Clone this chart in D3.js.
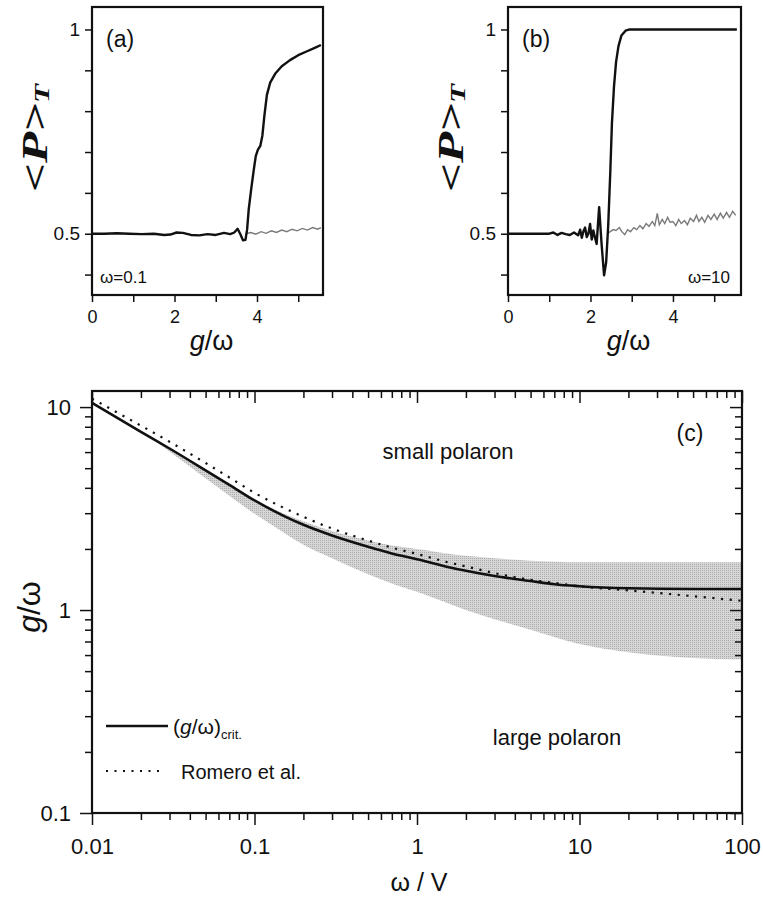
<!DOCTYPE html>
<html>
<head>
<meta charset="utf-8">
<script src="https://cdn.jsdelivr.net/npm/d3@7"></script>
<style>
  body { margin: 0; background: #fff; }
  svg { display: block; }
  text { font-family: "Liberation Sans", Arial, Helvetica, sans-serif; fill: #111; }
</style>
</head>
<body>
<div id="chart"></div>
<script>
// ---------------- data ----------------
// panel (a), omega = 0.1
const aBlackX = [0, 0.3, 0.6, 0.9, 1.2, 1.5, 1.75, 1.9, 2.05, 2.2, 2.4, 2.6, 2.8, 3.0, 3.2, 3.35, 3.45, 3.53, 3.6, 3.66, 3.72, 3.76, 3.8, 3.86, 3.92, 3.97, 4.02, 4.08, 4.13, 4.18, 4.24, 4.32, 4.45, 4.6, 4.8, 5.0, 5.2, 5.4, 5.55];
const aBlackY = [0.5, 0.5, 0.501, 0.5, 0.499, 0.5, 0.497, 0.498, 0.503, 0.502, 0.497, 0.496, 0.499, 0.497, 0.502, 0.499, 0.503, 0.512, 0.498, 0.484, 0.485, 0.51, 0.56, 0.61, 0.655, 0.69, 0.705, 0.715, 0.74, 0.79, 0.84, 0.87, 0.893, 0.91, 0.925, 0.937, 0.946, 0.955, 0.962];
const aGrayX = [3.72, 3.85, 3.97, 4.1, 4.22, 4.35, 4.47, 4.6, 4.72, 4.85, 4.97, 5.1, 5.22, 5.35, 5.47, 5.55];
const aGrayY = [0.5, 0.503, 0.499, 0.505, 0.501, 0.507, 0.503, 0.509, 0.505, 0.511, 0.507, 0.513, 0.509, 0.515, 0.511, 0.515];

// panel (b), omega = 10
const bBlackX = [0, 0.5, 1.0, 1.1, 1.2, 1.3, 1.4, 1.5, 1.6, 1.7, 1.75, 1.79, 1.83, 1.87, 1.91, 1.95, 1.99, 2.03, 2.07, 2.11, 2.15, 2.21, 2.27, 2.33, 2.38, 2.43, 2.48, 2.52, 2.57, 2.62, 2.68, 2.75, 2.85, 2.95, 3.5, 4.5, 5.55];
const bBlackY = [0.5, 0.5, 0.5, 0.503, 0.497, 0.502, 0.499, 0.497, 0.503, 0.496, 0.51, 0.49, 0.506, 0.515, 0.492, 0.5, 0.524, 0.486, 0.508, 0.49, 0.475, 0.565, 0.474, 0.398, 0.43, 0.52, 0.65, 0.77, 0.86, 0.92, 0.96, 0.985, 0.997, 1.0, 1.0, 1.0, 1.0];
const bGrayX = [2.4, 2.48, 2.55, 2.62, 2.7, 2.76, 2.83, 2.9, 2.97, 3.05, 3.12, 3.2, 3.27, 3.35, 3.42, 3.5, 3.56, 3.62, 3.67, 3.74, 3.8, 3.87, 3.93, 4.0, 4.07, 4.14, 4.2, 4.28, 4.35, 4.42, 4.5, 4.57, 4.63, 4.7, 4.77, 4.85, 4.92, 5.0, 5.07, 5.15, 5.22, 5.3, 5.37, 5.45, 5.52];
const bGrayY = [0.5, 0.505, 0.51, 0.508, 0.515, 0.505, 0.498, 0.51, 0.505, 0.515, 0.51, 0.52, 0.512, 0.525, 0.518, 0.53, 0.52, 0.55, 0.522, 0.535, 0.525, 0.54, 0.528, 0.53, 0.52, 0.535, 0.525, 0.532, 0.522, 0.538, 0.53, 0.545, 0.53, 0.54, 0.528, 0.545, 0.535, 0.548, 0.535, 0.55, 0.538, 0.552, 0.54, 0.555, 0.545];

const pTicks = [0.4, 0.5, 0.6, 0.7, 0.8, 0.9, 1];
const pTickLabels = [0.5, 1];
const gTicks = [0, 1, 2, 3, 4, 5];
const gTickLabels = [0, 2, 4];

// panel (c)
const cX = [0.01, 0.02, 0.03, 0.05, 0.07, 0.1, 0.15, 0.2, 0.3, 0.5, 0.7, 1, 1.5, 2, 3, 5, 7, 10, 20, 50, 100];
const cCrit = [10.5, 7.55, 6.25, 4.88, 4.14, 3.47, 2.92, 2.63, 2.33, 2.05, 1.9, 1.78, 1.64, 1.56, 1.47, 1.39, 1.34, 1.31, 1.28, 1.27, 1.27];
const cRomero = [11.0, 8.1, 6.75, 5.3, 4.5, 3.78, 3.2, 2.88, 2.52, 2.2, 2.03, 1.89, 1.73, 1.64, 1.52, 1.41, 1.36, 1.31, 1.25, 1.17, 1.11];
const bandX = [0.025, 0.04, 0.06, 0.1, 0.15, 0.2, 0.3, 0.5, 0.7, 1, 2, 3, 5, 10, 20, 50, 100];
const bandHi = [6.85, 5.5, 4.45, 3.5, 3.0, 2.74, 2.45, 2.2, 2.08, 2.0, 1.85, 1.8, 1.75, 1.72, 1.72, 1.72, 1.72];
const bandLo = [6.7, 5.1, 4.0, 2.98, 2.42, 2.1, 1.8, 1.5, 1.35, 1.23, 1.0, 0.9, 0.8, 0.68, 0.62, 0.58, 0.57];
const cXMajor = [0.01, 0.1, 1, 10, 100];
const cYMajor = [0.1, 1, 10];

const zip = (xs, ys) => xs.map((x, i) => ({ x: x, y: ys[i] }));

// ---------------- svg ----------------
const svg = d3.select("#chart").append("svg")
  .attr("width", 763).attr("height", 900);
svg.append("rect").attr("width", 763).attr("height", 900).attr("fill", "#fff");

const defs = svg.append("defs");
const pat = defs.append("pattern").attr("id", "stipple")
  .attr("width", 2).attr("height", 2).attr("patternUnits", "userSpaceOnUse");
pat.append("rect").attr("width", 2).attr("height", 2).attr("fill", "#d6d6d6");
pat.append("rect").attr("width", 1).attr("height", 1).attr("fill", "#acacac");

function styleAxis(g) {
  g.select(".domain").remove();
  g.selectAll(".tick line").attr("stroke", "#111").attr("stroke-width", 1.5);
  g.selectAll(".tick text").attr("fill", "#111");
}

// ---------------- panels (a) and (b) ----------------
function drawPanel(o) {
  const x = d3.scaleLinear().domain([0, o.xMax]).range([o.left, o.right]);
  const y = d3.scaleLinear().domain([0.35, 1.055]).range([295, 7]);
  const g = svg.append("g");

  const line = d3.line().x(d => x(d.x)).y(d => y(d.y));

  g.append("path").datum(zip(o.grayX, o.grayY))
    .attr("d", line).attr("fill", "none")
    .attr("stroke", "#7a7a7a").attr("stroke-width", 1.4);
  g.append("path").datum(zip(o.blackX, o.blackY))
    .attr("d", line).attr("fill", "none")
    .attr("stroke", "#111").attr("stroke-width", 2.4)
    .attr("stroke-linejoin", "round");

  g.append("g").attr("transform", "translate(0,295)")
    .call(d3.axisBottom(x).tickValues(gTicks).tickSize(7).tickPadding(8)
      .tickFormat(d => gTickLabels.includes(d) ? d : ""))
    .call(styleAxis)
    .selectAll("text").style("font-size", "18px");

  g.append("g").attr("transform", `translate(${o.left},0)`)
    .call(d3.axisLeft(y).tickValues(pTicks).tickSize(7).tickPadding(5)
      .tickFormat(d => pTickLabels.includes(d) ? d : ""))
    .call(styleAxis)
    .selectAll("text").style("font-size", "19px");

  g.append("rect").attr("x", o.left).attr("y", 7)
    .attr("width", o.right - o.left).attr("height", 288)
    .attr("fill", "none").attr("stroke", "#111").attr("stroke-width", 2.2);

  g.append("text").attr("x", o.left + 14).attr("y", 47)
    .style("font-size", "23px").text(o.tag);

  g.append("text").attr("x", o.wX).attr("y", 283)
    .attr("text-anchor", o.wAnchor)
    .style("font-size", "17px").text(o.wLabel);

  // x label
  const xl = g.append("text").attr("x", (o.left + o.right) / 2 + 4).attr("y", 350)
    .attr("text-anchor", "middle").style("font-size", "27px");
  xl.append("tspan").style("font-style", "italic").text("g");
  xl.append("tspan").text("/ω");

  // y label <P>_T
  const yl = g.append("text")
    .attr("transform", `translate(${o.left - 45},138) rotate(-90)`)
    .attr("text-anchor", "middle")
    .attr("textLength", 108).attr("lengthAdjust", "spacingAndGlyphs")
    .style("font-family", "'Liberation Serif', 'DejaVu Serif', serif")
    .style("font-weight", "bold").style("font-style", "italic")
    .style("font-size", "36px");
  yl.append("tspan").text("<");
  yl.append("tspan").text("P");
  yl.append("tspan").text(">");
  yl.append("tspan").attr("dy", 2).style("font-size", "22px").text("T");
}

drawPanel({ left: 92, right: 323, xMax: 5.6, blackX: aBlackX, blackY: aBlackY,
  grayX: aGrayX, grayY: aGrayY, tag: "(a)", wLabel: "ω=0.1", wX: 100, wAnchor: "start" });
drawPanel({ left: 508, right: 741, xMax: 5.65, blackX: bBlackX, blackY: bBlackY,
  grayX: bGrayX, grayY: bGrayY, tag: "(b)", wLabel: "ω=10", wX: 730, wAnchor: "end" });

// ---------------- panel (c) ----------------
const xC = d3.scaleLog().domain([0.01, 100]).range([92, 742]);
const yC = d3.scaleLog().domain([0.1, 12]).range([813, 391]);
const xMinor = xC.ticks().filter(d => !cXMajor.includes(d));
const yMinor = yC.ticks().filter(d => !cYMajor.includes(d) && d <= 10);
const fmt = d => String(d);

const gc = svg.append("g");

const band = d3.area()
  .x(d => xC(d.x)).y0(d => yC(d.lo)).y1(d => yC(d.hi))
  .curve(d3.curveMonotoneX);
gc.append("path")
  .datum(bandX.map((x, i) => ({ x: x, hi: bandHi[i], lo: bandLo[i] })))
  .attr("d", band).attr("fill", "url(#stipple)");

const lineC = d3.line().x(d => xC(d.x)).y(d => yC(d.y)).curve(d3.curveMonotoneX);
gc.append("path").datum(zip(cX, cRomero))
  .attr("d", lineC).attr("fill", "none").attr("stroke", "#111")
  .attr("stroke-width", 2.2).attr("stroke-dasharray", "2.2,6.5");
gc.append("path").datum(zip(cX, cCrit))
  .attr("d", lineC).attr("fill", "none").attr("stroke", "#111")
  .attr("stroke-width", 2.6);

// axes
gc.append("g").attr("transform", "translate(0,813)")
  .call(d3.axisBottom(xC).tickValues(xMinor).tickSize(7).tickFormat(""))
  .call(styleAxis);
gc.append("g").attr("transform", "translate(0,813)")
  .call(d3.axisBottom(xC).tickValues(cXMajor).tickSize(12).tickPadding(13).tickFormat(fmt))
  .call(styleAxis)
  .selectAll("text").style("font-size", "22px");
gc.append("g").attr("transform", "translate(0,391)")
  .call(d3.axisTop(xC).tickValues(xMinor).tickSize(-7).tickFormat(""))
  .call(styleAxis);
gc.append("g").attr("transform", "translate(0,391)")
  .call(d3.axisTop(xC).tickValues(cXMajor).tickSize(-12).tickFormat(""))
  .call(styleAxis);
gc.append("g").attr("transform", "translate(92,0)")
  .call(d3.axisLeft(yC).tickValues(yMinor).tickSize(7).tickFormat(""))
  .call(styleAxis);
gc.append("g").attr("transform", "translate(92,0)")
  .call(d3.axisLeft(yC).tickValues(cYMajor).tickSize(12).tickPadding(9).tickFormat(fmt))
  .call(styleAxis)
  .selectAll("text").style("font-size", "22px");
gc.append("g").attr("transform", "translate(742,0)")
  .call(d3.axisRight(yC).tickValues(yMinor).tickSize(-7).tickFormat(""))
  .call(styleAxis);
gc.append("g").attr("transform", "translate(742,0)")
  .call(d3.axisRight(yC).tickValues(cYMajor).tickSize(-12).tickFormat(""))
  .call(styleAxis);

gc.append("rect").attr("x", 92).attr("y", 391).attr("width", 650).attr("height", 422)
  .attr("fill", "none").attr("stroke", "#111").attr("stroke-width", 2.2);

// annotations
gc.append("text").attr("x", 690).attr("y", 441).attr("text-anchor", "middle")
  .style("font-size", "23px").text("(c)");
gc.append("text").attr("x", 448).attr("y", 459).attr("text-anchor", "middle")
  .style("font-size", "22px").text("small polaron");
gc.append("text").attr("x", 557).attr("y", 745).attr("text-anchor", "middle")
  .style("font-size", "22px").text("large polaron");

// legend
gc.append("line").attr("x1", 106).attr("x2", 168).attr("y1", 726).attr("y2", 726)
  .attr("stroke", "#111").attr("stroke-width", 2.6);
const lt = gc.append("text").attr("x", 173).attr("y", 734).style("font-size", "21px");
lt.append("tspan").text("(");
lt.append("tspan").style("font-style", "italic").text("g");
lt.append("tspan").text("/ω)");
lt.append("tspan").attr("dy", 5).style("font-size", "13px").text("crit.");
gc.append("line").attr("x1", 106).attr("x2", 165).attr("y1", 771).attr("y2", 771)
  .attr("stroke", "#111").attr("stroke-width", 2).attr("stroke-dasharray", "2,6.5");
gc.append("text").attr("x", 181).attr("y", 779).style("font-size", "20px").text("Romero et al.");

// axis titles
gc.append("text").attr("x", 419).attr("y", 891).attr("text-anchor", "middle")
  .style("font-size", "25px").text("ω / V");
const cy = gc.append("text").attr("transform", "translate(40,607) rotate(-90)")
  .attr("text-anchor", "middle").style("font-size", "32px");
cy.append("tspan").style("font-style", "italic").text("g");
cy.append("tspan").text("/ω");
</script>
</body>
</html>
